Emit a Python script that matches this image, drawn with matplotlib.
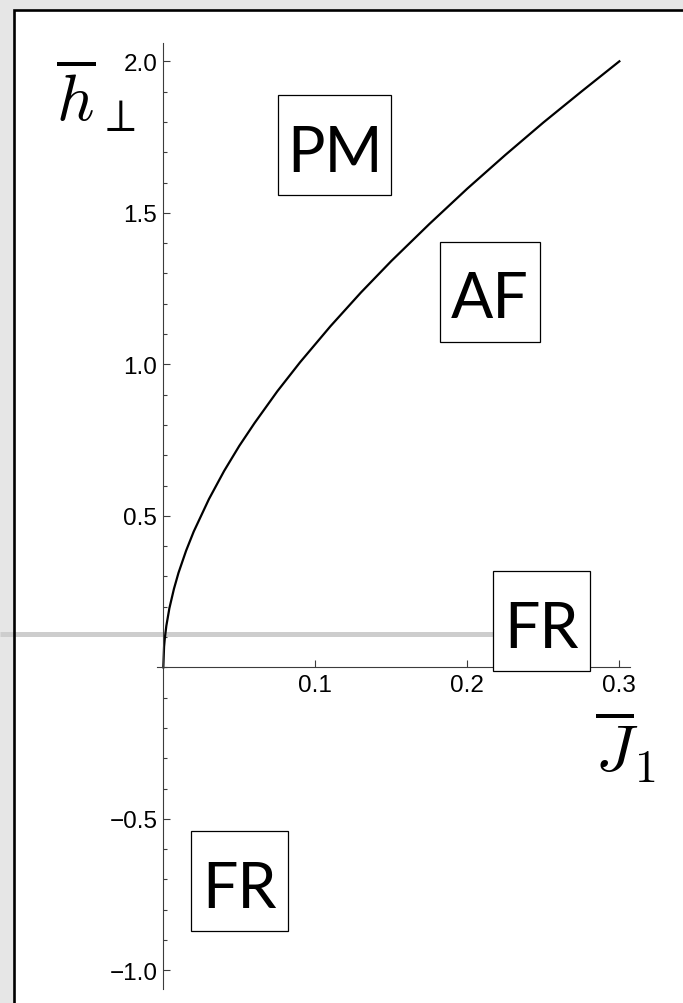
import numpy as np
import matplotlib
matplotlib.use('Agg')
import matplotlib.pyplot as plt
from matplotlib.patches import Rectangle
from matplotlib.ticker import MultipleLocator

# Phase boundary (J1 bar, h_perp bar)
j_vals = [0, 0.0005, 0.001, 0.002, 0.004, 0.007, 0.01, 0.015, 0.02, 0.03, 0.04,
          0.05, 0.06, 0.075, 0.09, 0.11, 0.13, 0.15, 0.175, 0.2, 0.225, 0.25,
          0.275, 0.3]
h_vals = [0, 0.068, 0.096, 0.137, 0.195, 0.259, 0.312, 0.385, 0.448, 0.555, 0.648,
          0.731, 0.806, 0.911, 1.007, 1.126, 1.237, 1.341, 1.463, 1.580, 1.691,
          1.798, 1.900, 2.0]

x_ticks = [0.1, 0.2, 0.3]
x_ticklabels = ['0.1', '0.2', '0.3']
y_ticks = [-1.0, -0.5, 0.5, 1.0, 1.5, 2.0]
y_ticklabels = ['\u22121.0', '\u22120.5', '0.5', '1.0', '1.5', '2.0']

phase_names = ['PM', 'AF', 'FR', 'FR']
guide_h = 0.1116

plt.rcParams['mathtext.fontset'] = 'cm'

W, H = 683, 1004
fig = plt.figure(figsize=(W / 100, H / 100), dpi=100)
fig.patch.set_facecolor('#e6e6e6')

# white panel with black frame
fx, fy = 14.3 / W, 1 - 10.7 / H
fig.add_artist(Rectangle((fx, -0.1), 1.2, fy + 0.1, transform=fig.transFigure,
                         facecolor='white', edgecolor='none', zorder=-10))
fig.add_artist(Rectangle((fx, -0.1), 1.2, fy + 0.1, transform=fig.transFigure,
                         facecolor='none', edgecolor='black', lw=1.9, zorder=10))

ax = fig.add_axes([0.2302, 0.01444, 0.6922, 0.9416])
ax.patch.set_visible(False)
ax.set_xlim(-0.004, 0.307)
ax.set_ylim(-1.06, 2.06)

for side in ['top', 'right']:
    ax.spines[side].set_visible(False)
for side in ['left', 'bottom']:
    ax.spines[side].set_position(('data', 0))
    ax.spines[side].set_color('#3c3c3c')
    ax.spines[side].set_linewidth(0.8)

ax.set_xticks(x_ticks)
ax.set_xticklabels(x_ticklabels)
ax.set_yticks(y_ticks)
ax.set_yticklabels(y_ticklabels)
ax.yaxis.set_minor_locator(MultipleLocator(0.1))
for lab in ax.get_xticklabels() + ax.get_yticklabels():
    lab.set_fontfamily('Liberation Sans')
    lab.set_fontsize(17.5)
ax.tick_params(axis='y', which='major', direction='in', length=5, width=0.8,
               color='#3c3c3c', pad=4.3)
ax.tick_params(axis='y', which='minor', direction='in', length=3, width=0.8,
               color='#3c3c3c')
ax.tick_params(axis='x', which='major', direction='in', length=5, width=0.8,
               color='#3c3c3c', pad=5.0)

# light gray guide line
ax.plot([-0.1075, 0.25], [guide_h, guide_h], color='#cdcdcd', lw=3.6,
        solid_capstyle='butt', clip_on=False, zorder=1)

ax.plot(j_vals, h_vals, color='black', lw=1.6, zorder=2)

# boxed phase labels: (center J, center h, width, height)
boxes = [(0.1127, 1.724, 0.0741, 0.331),
         (0.2149, 1.2396, 0.0658, 0.330),
         (0.2488, 0.1528, 0.0638, 0.328),
         (0.0503, -0.705, 0.0638, 0.330)]
for name, (cx, cy, bw, bh) in zip(phase_names, boxes):
    ax.add_patch(Rectangle((cx - bw / 2, cy - bh / 2), bw, bh, facecolor='white',
                           edgecolor='black', lw=0.9, zorder=3, clip_on=False))
    ax.text(cx, cy - 0.085, name, ha='center', va='baseline', fontsize=45,
            family='Lato', zorder=4)

fig.text(96 / W, 1 - 96.5 / H, r'$\overline{h}_\perp$', fontsize=47,
         ha='center', va='center')
fig.text(625.5 / W, 1 - 748 / H, r'$\overline{J}_1$', fontsize=47,
         ha='center', va='center')

fig.savefig('out.png', dpi=100, facecolor=fig.get_facecolor())
